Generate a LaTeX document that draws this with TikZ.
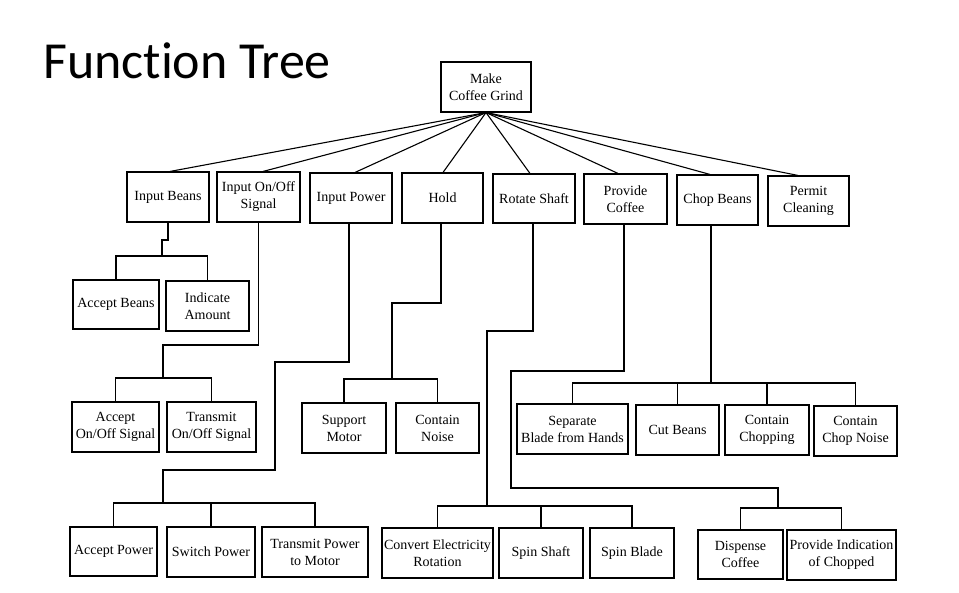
\documentclass[tikz,border=0pt]{standalone}
\usepackage{fontspec}
\setmainfont{Liberation Serif}
\newfontfamily\titlefont[Ligatures=NoCommon]{Carlito}
\usetikzlibrary{calc}
\begin{document}
\begin{tikzpicture}[x=1pt,y=-1pt,
  fb/.style={draw, line width=1.1pt, inner sep=0pt, align=center,
    font=\fontsize{14}{17}\selectfont, fill=white},
  conn/.style={line width=1.1pt}]
\useasboundingbox[fill=white] (0,0) rectangle (959,593);
\node[anchor=base west, inner sep=0pt, font=\titlefont\fontsize{52}{60}\selectfont] (title) at (43,79) {Function Tree};
% root
\node[fb, minimum width=90pt, minimum height=50pt] (root) at (486,87) {Make\\Coffee Grind};
% level 1
\node[fb, minimum width=82pt, minimum height=50pt] (ib) at (168,197) {Input Beans};
\node[fb, minimum width=83pt, minimum height=50pt] (ios) at (258.5,197) {Input On/Off\\Signal};
\node[fb, minimum width=82pt, minimum height=50pt] (ip) at (351,198) {Input Power};
\node[fb, minimum width=81pt, minimum height=50pt] (hold) at (442.5,198) {Hold};
\node[fb, minimum width=82pt, minimum height=49pt] (rs) at (534,198.5) {Rotate Shaft};
\node[fb, minimum width=83pt, minimum height=50pt] (pc) at (625.5,199) {Provide\\Coffee};
\node[fb, minimum width=81pt, minimum height=50pt] (cb) at (717.5,200) {Chop Beans};
\node[fb, minimum width=81pt, minimum height=50pt] (pcl) at (808.5,201) {Permit\\Cleaning};
% level 2
\node[fb, minimum width=86pt, minimum height=49pt] (ab) at (116,304.5) {Accept Beans};
\node[fb, minimum width=83pt, minimum height=50pt] (ia) at (207.5,306) {Indicate\\Amount};
\node[fb, minimum width=87pt, minimum height=50pt] (aos) at (115.5,427) {Accept\\On/Off Signal};
\node[fb, minimum width=89pt, minimum height=50pt] (tos) at (211.5,427) {Transmit\\On/Off Signal};
\node[fb, minimum width=87pt, minimum height=49pt] (apw) at (113.5,551.5) {Accept Power};
\node[fb, minimum width=88pt, minimum height=50pt] (spw) at (211,552) {Switch Power};
\node[fb, minimum width=106pt, minimum height=50pt] (tpm) at (315,552) {Transmit Power\\to Motor};
\node[fb, minimum width=84pt, minimum height=50pt] (sm) at (344,428) {Support\\Motor};
\node[fb, minimum width=83pt, minimum height=50pt] (cn) at (437.5,428) {Contain\\Noise};
\node[fb, minimum width=111pt, minimum height=50pt] (cer) at (437.5,553) {Convert Electricity\\Rotation};
\node[fb, minimum width=84pt, minimum height=50pt] (ss) at (541,553) {Spin Shaft};
\node[fb, minimum width=84pt, minimum height=50pt] (sb) at (632,553) {Spin Blade};
\node[fb, minimum width=111pt, minimum height=50pt] (sbh) at (572.5,429) {Separate\\Blade from Hands};
\node[fb, minimum width=83pt, minimum height=50pt] (cub) at (677.5,430) {Cut Beans};
\node[fb, minimum width=84pt, minimum height=50pt] (cch) at (767,430) {Contain\\Chopping};
\node[fb, minimum width=83pt, minimum height=50pt] (ccn) at (855.5,431) {Contain\\Chop Noise};
\node[fb, minimum width=85pt, minimum height=49pt] (dc) at (740.5,554.5) {Dispense\\Coffee};
\node[fb, minimum width=109pt, minimum height=50pt] (pic) at (841.5,555) {Provide Indication\\of Chopped};
% root connectors
\draw[conn] (root.south) -- ([xshift=2pt]ib.north);
\draw[conn] (root.south) -- ([xshift=4.5pt]ios.north);
\draw[conn] (root.south) -- ([xshift=4pt]ip.north);
\draw[conn] (root.south) -- ([xshift=0.5pt]hold.north);
\draw[conn] (root.south) -- ([xshift=-4pt]rs.north);
\draw[conn] (root.south) -- ([xshift=-7.5pt]pc.north);
\draw[conn] (root.south) -- ([xshift=-7.5pt]cb.north);
\draw[conn] (root.south) -- ([xshift=-10.5pt]pcl.north);
% Input Beans
\coordinate (ibk) at (162,240);
\coordinate (ibj) at (162,256);
\draw[conn] (ib.south) |- (ibk) -- (ibj);
\draw[conn] (ab.north) |- (ibj) -| (ia.north);
% Input On/Off Signal
\coordinate (iosk) at (163,345);
\coordinate (iosj) at (163,378);
\draw[conn] (ios.south) |- (iosk) -- (iosj);
\draw[conn] (aos.north) |- (iosj) -| (tos.north);
% Input Power
\coordinate (ipk1) at (275,362);
\coordinate (ipk2) at (163,470);
\coordinate (ipj) at (163,503);
\draw[conn] ([xshift=-2pt]ip.south) |- (ipk1) |- (ipk2) -- (ipj);
\draw[conn] (apw.north) |- (ipj) -| (tpm.north);
\draw[conn] (spw.north) -- (spw.north |- ipj);
% Hold
\coordinate (hk) at (392,303);
\coordinate (hj) at (392,379);
\draw[conn] ([xshift=-1.5pt]hold.south) |- (hk) -- (hj);
\draw[conn] (sm.north) |- (hj) -| (cn.north);
% Rotate Shaft
\coordinate (rsk) at (487,331);
\coordinate (rsj) at (487,506);
\draw[conn] ([xshift=-1pt]rs.south) |- (rsk) -- (rsj);
\draw[conn] (cer.north) |- (rsj) -| (sb.north);
\draw[conn] (ss.north) -- (ss.north |- rsj);
% Provide Coffee
\coordinate (pck1) at (511,371);
\coordinate (pck2) at (778,488);
\coordinate (pcj) at (778,508);
\draw[conn] ([xshift=-1.5pt]pc.south) |- (pck1) |- (pck2) -- (pcj);
\draw[conn] (dc.north) |- (pcj) -| (pic.north);
% Chop Beans
\coordinate (cbj) at (711,383);
\draw[conn] ([xshift=-6.5pt]cb.south) -- (cbj);
\draw[conn] (sbh.north) |- (cbj) -| (ccn.north);
\draw[conn] (cub.north) -- (cub.north |- cbj);
\draw[conn] (cch.north) -- (cch.north |- cbj);
\end{tikzpicture}
\end{document}
